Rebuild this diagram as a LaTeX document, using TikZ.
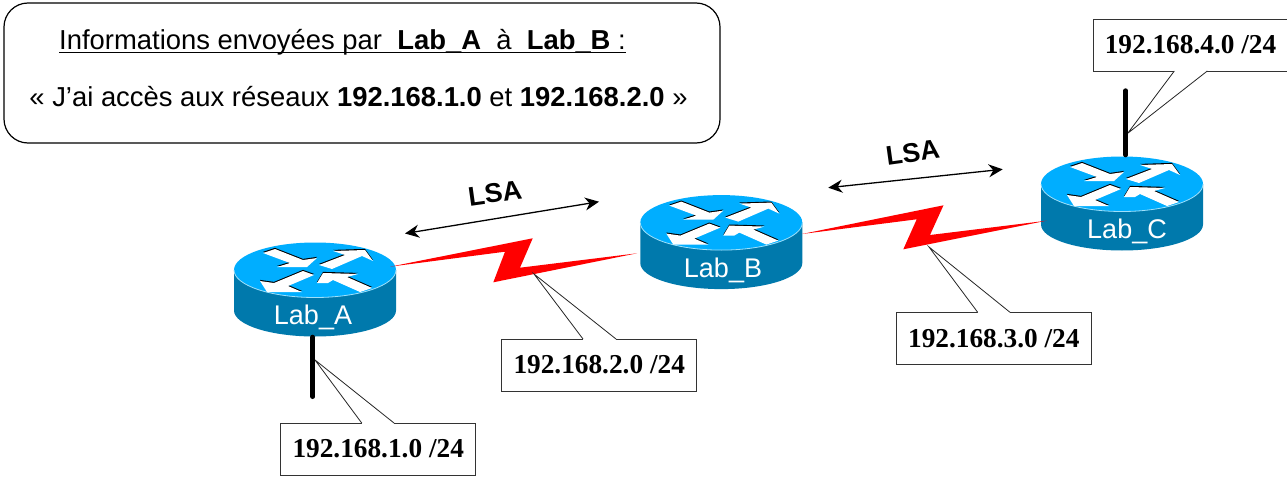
\documentclass[tikz,border=0pt]{standalone}
\usepackage{fontspec}
\setmainfont{Liberation Sans}
\newfontfamily\serifb{Liberation Serif}[Scale=1]
\usetikzlibrary{arrows.meta,calc}
\definecolor{routertop}{HTML}{00AEFF}
\definecolor{routerside}{HTML}{0079AC}
\definecolor{routerrim}{HTML}{9FE0FA}
\newcommand{\fsz}[1]{\fontsize{#1}{#1}\selectfont}
\tikzset{
  x=1pt,y=-1pt,
  infobox/.style={draw=black,line width=1.2pt,rounded corners=24pt,fill=white},
  infotext/.style={font=\fsz{27.4},inner sep=0pt,anchor=base},
  netbox/.style={draw=black!80,line width=0.8pt,fill=white,minimum width=195pt,minimum height=52pt,inner sep=0pt,font=\serifb\bfseries\fsz{27.3}},
  stub/.style={line width=4.6pt,line cap=round,black},
  zap/.style={fill=red,draw=none},
  lsaarrow/.style={line width=1.3pt,{Stealth[length=14pt,width=13pt]}-{Stealth[length=14pt,width=13pt]}},
  lsalabel/.style={font=\bfseries\fsz{27},inner sep=0pt},
  routername/.style={font=\fsz{27},text=white,inner sep=0pt,anchor=base},
  arrowface/.style={fill=white,draw=none},
  arrowshade/.style={fill=black,draw=none,shift={(0,-1.1)}},
  pics/router/.style={code={
    \fill[routerside] (-81,0) -- (-81,40.5) arc[start angle=180,end angle=0,x radius=81,y radius=26] -- (81,0) -- cycle;
    \fill[routertop] (0,0) ellipse[x radius=81,y radius=27.5];
    \draw[routerrim,line width=0.8pt] (-81,0) arc[start angle=180,end angle=0,x radius=81,y radius=27.5];
    \foreach \st in {arrowshade,arrowface}{
      \fill[\st] (-52,-17) -- (-40,-21) -- (-12,-10) -- (2,-12) -- (-8,-3) -- (-38,-3) -- (-25,-7) -- cycle;
      \fill[\st] (4,-5) -- (30,-15) -- (18,-19) -- (50,-20) -- (58,-9) -- (47,-14) -- (17,-1) -- cycle;
      \fill[\st] (-55,11) -- (-41,13) -- (-12,1) -- (-1,5) -- (-27,16) -- (-13,22) -- (-48,22) -- cycle;
      \fill[\st] (2,13) -- (8,3) -- (43,4) -- (32,7) -- (57,18) -- (45,22) -- (18,10) -- (13,13) -- cycle;
    }
  }},
}
\begin{document}
\begin{tikzpicture}
\useasboundingbox (0,0) rectangle (1287,484);
\fill[white] (0,0) rectangle (1287,484);

% info box
\node[infobox,minimum width=716pt,minimum height=140pt,inner sep=0pt] (info) at (362,73) {};
\node[infotext] (line1) at (342.5,49.5) {Informations envoyées par\ \ \textbf{Lab\_A}\ \ à\ \ \textbf{Lab\_B}\ :};
\draw[line width=1.6pt] ($(line1.base west)+(0,3)$) -- ($(line1.base east)+(0,3)$);
\node[infotext] (line2) at (358.5,107) {« J’ai accès aux réseaux \textbf{192.168.1.0} et \textbf{192.168.2.0} »};

% routers
\pic (ra) at (315,270) {router};
\pic (rb) at (721.3,222.6) {router};
\pic (rc) at (1122,184) {router};
\node[routername] (laba) at (313,324) {Lab\_A};
\node[routername] (labb) at (723,277.7) {Lab\_B};
\node[routername] (labc) at (1127,238) {Lab\_C};

% serial links
\fill[zap] (390,266.7) -- (532.7,238.3) -- (520,267.7) -- (637,253.3) -- (493.3,282.3) -- (505,251.7) -- cycle;
\fill[zap] (802,234) -- (943.5,205.3) -- (930,235) -- (1046.7,220.7) -- (903.3,249.3) -- (916.7,219.3) -- cycle;

% LSA
\coordinate (la1) at (405,233.5); \coordinate (la2) at (599,201.7);
\coordinate (lb1) at (828.3,187.7); \coordinate (lb2) at (1002.7,169.3);
\draw[lsaarrow] (la1) -- (la2);
\draw[lsaarrow] (lb1) -- (lb2);
\node[lsalabel,rotate=8] (lsa1) at (495,193.3) {LSA};
\node[lsalabel,rotate=8] (lsa2) at (912.7,152.5) {LSA};

% network boxes
\node[netbox] (n1) at (378.2,449) {192.168.1.0 /24};
\node[netbox] (n2) at (599.2,365) {192.168.2.0 /24};
\node[netbox] (n3) at (993.8,338.3) {192.168.3.0 /24};
\node[netbox] (n4) at (1190.5,45) {192.168.4.0 /24};

% callout tails
\coordinate (t1) at (315,360); \coordinate (t1a) at (361.7,423); \coordinate (t1b) at (394,423);
\coordinate (t2) at (534,274); \coordinate (t2a) at (583,339); \coordinate (t2b) at (616,339);
\coordinate (t3) at (929,247); \coordinate (t3a) at (977.7,312.3); \coordinate (t3b) at (1010,312.3);
\coordinate (t4) at (1127.7,133.3); \coordinate (t4a) at (1174.3,71); \coordinate (t4b) at (1207.3,71);
\foreach \p/\a/\b in {t1/t1a/t1b,t2/t2a/t2b,t3/t3a/t3b,t4/t4a/t4b}{
  \fill[white] (\p) -- (\a) -- (\b) -- cycle;
  \draw[white,line width=1.2pt] (\a) -- (\b);
  \draw[draw=black!85,line width=0.8pt] (\a) -- (\p) -- (\b);
}

% LAN stubs
\coordinate (sa) at (312.7,396.7); \coordinate (sc) at (1125.7,90.6);
\coordinate (sa0) at (312.7,337); \coordinate (sc0) at (1125.7,155);
\draw[stub] (sa0) -- (sa);
\draw[stub] (sc) -- (sc0);
\end{tikzpicture}
\end{document}
